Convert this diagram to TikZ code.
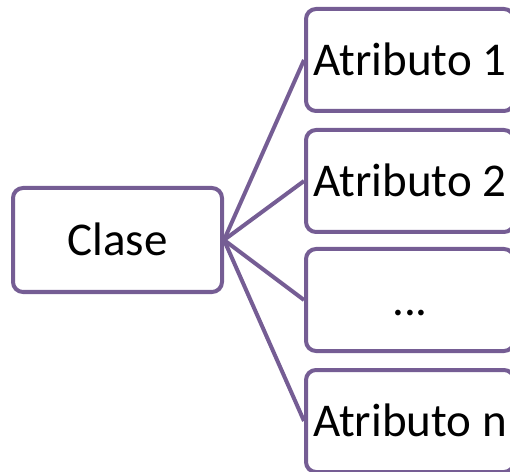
\documentclass[tikz,border=0pt]{standalone}
\usepackage{fontspec}
\setmainfont{Carlito}
\definecolor{linepurple}{RGB}{117,93,148}
\tikzset{
  box/.style={draw=linepurple, line width=4pt, rounded corners=10pt, fill=white,
    minimum width=208pt, minimum height=102pt, inner sep=0pt,
    text height=32pt, text depth=1pt, font=\fontsize{47}{51}\selectfont},
  link/.style={draw=linepurple, line width=4pt}
}
\begin{document}
\begin{tikzpicture}[x=1pt,y=1pt]
  \useasboundingbox (0,0) rectangle (510,471);
  \begin{scope}
    \clip (0,0) rectangle (510,471);
    % parent box
    \node[box, minimum width=209pt, minimum height=104pt] (clase) at (117.5,231) {Clase};
    % attribute boxes
    \node[box] (a1) at (410,411) {Atributo 1};
    \node[box] (a2) at (410,290) {Atributo 2};
    \node[box] (a3) at (410,171) {...};
    \node[box] (an) at (410,50) {Atributo n};
    % connectors
    \foreach \t in {a1,a2,a3,an}
      \draw[link] (clase.east) -- (\t.west);
  \end{scope}
\end{tikzpicture}
\end{document}
